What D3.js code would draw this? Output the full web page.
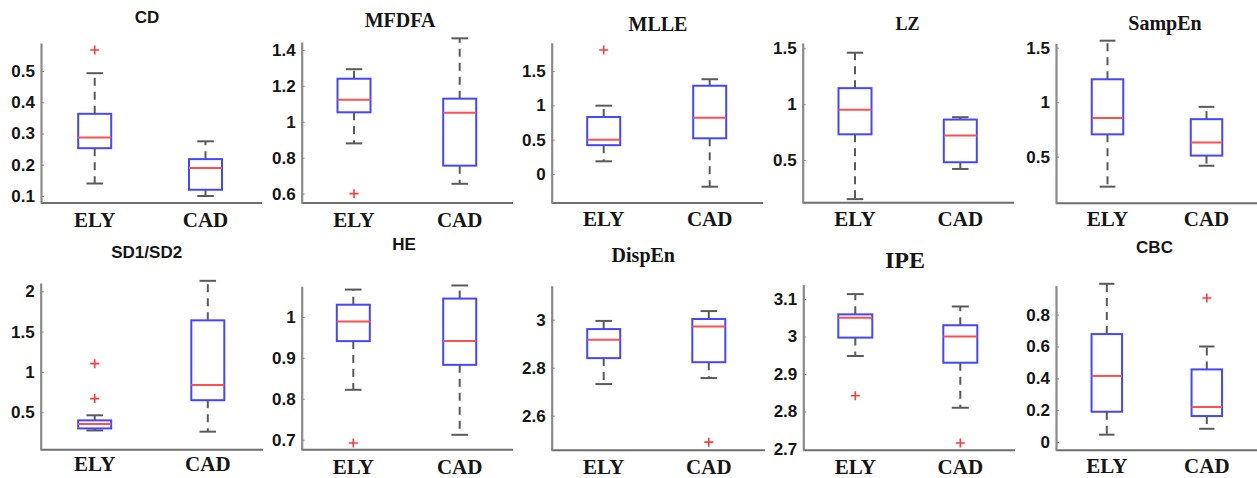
<!DOCTYPE html>
<html>
<head>
<meta charset="utf-8">
<script src="https://cdn.jsdelivr.net/npm/d3@7"></script>
<style>
  html, body { margin: 0; padding: 0; background: #fff; }
  svg { display: block; }
</style>
</head>
<body>
<svg id="chart" width="1257" height="478"></svg>
<script>
// Groups compared in every panel
const groups = ["ELY", "CAD"];

// Five-number summaries per group: [lower whisker, Q1, median, Q3, upper whisker]
const cdBox     = [[0.14, 0.253, 0.287, 0.363, 0.493], [0.10, 0.12, 0.19, 0.218, 0.275]];
const cdOut     = [[0.567], []];
const mfdfaBox  = [[0.88, 1.053, 1.123, 1.24, 1.293], [0.655, 0.756, 1.05, 1.129, 1.465]];
const mfdfaOut  = [[0.60], []];
const mlleBox   = [[0.185, 0.42, 0.50, 0.83, 0.995], [-0.185, 0.52, 0.82, 1.285, 1.38]];
const mlleOut   = [[1.806], []];
const lzBox     = [[0.15, 0.73, 0.95, 1.143, 1.46], [0.42, 0.48, 0.72, 0.862, 0.883]];
const lzOut     = [[], []];
const sampenBox = [[0.225, 0.705, 0.855, 1.21, 1.564], [0.417, 0.51, 0.63, 0.844, 0.957]];
const sampenOut = [[], []];
const sdBox     = [[0.275, 0.30, 0.355, 0.40, 0.463], [0.26, 0.65, 0.84, 1.64, 2.13]];
const sdOut     = [[1.103, 0.67], []];
const heBox     = [[0.822, 0.941, 0.989, 1.03, 1.067], [0.712, 0.883, 0.941, 1.045, 1.077]];
const heOut     = [[0.692], []];
const dispenBox = [[2.732, 2.84, 2.917, 2.961, 2.995], [2.757, 2.823, 2.972, 3.003, 3.036]];
const dispenOut = [[], [2.49]];
const ipeBox    = [[2.948, 2.997, 3.05, 3.059, 3.113], [2.81, 2.93, 3.0, 3.03, 3.08]];
const ipeOut    = [[2.842], [2.716]];
const cbcBox    = [[0.046, 0.19, 0.415, 0.678, 0.994], [0.083, 0.163, 0.22, 0.456, 0.6]];
const cbcOut    = [[], [0.905]];

// Tick labels of each y axis
const cdTicks     = [0.1, 0.2, 0.3, 0.4, 0.5];
const mfdfaTicks  = [0.6, 0.8, 1, 1.2, 1.4];
const mlleTicks   = [0, 0.5, 1, 1.5];
const lzTicks     = [0.5, 1, 1.5];
const sampenTicks = [0.5, 1, 1.5];
const sdTicks     = [0.5, 1, 1.5, 2];
const heTicks     = [0.7, 0.8, 0.9, 1];
const dispenTicks = [2.6, 2.8, 3];
const ipeTicks    = [2.7, 2.8, 2.9, 3, 3.1];
const cbcTicks    = [0, 0.2, 0.4, 0.6, 0.8];

// Panel titles
const titles = ["CD", "MFDFA", "MLLE", "LZ", "SampEn", "SD1/SD2", "HE", "DispEn", "IPE", "CBC"];

// Panel geometry: y-axis x, plot top/bottom, x-axis end, y domain, group centres, box width,
// title centre/baseline and font, label baseline, tick font size
const layout = [
  { ax: 41,    top: 43,    bot: 203,   right: 262,  dom: [0.0776, 0.5896], cx: [94.7, 205.5],  bw: 33, tx: 147,   ty: 22.5, tf: "sans", ts: 17, ly: 227, fs: 17 },
  { ax: 301.7, top: 42,    bot: 203,   right: 513,  dom: [0.548, 1.4445],  cx: [354, 459.7],   bw: 33, tx: 400,   ty: 27,  tf: "serif", ts: 20, ly: 227, fs: 17 },
  { ax: 551.7, top: 42.7,  bot: 203,   right: 763,  dom: [-0.422, 1.912],  cx: [603.7, 709.7], bw: 33, tx: 658,   ty: 31,  tf: "serif", ts: 20, ly: 225.5, fs: 17 },
  { ax: 802.7, top: 43,    bot: 202.7, right: 1014, dom: [0.118, 1.547],   cx: [855, 960.3],   bw: 33, tx: 907.5, ty: 29.5, tf: "serif", ts: 18, ly: 226, fs: 17 },
  { ax: 1056,  top: 43.3,  bot: 203.3, right: 1257, dom: [0.0725, 1.540],  cx: [1107.5, 1206.5], bw: 31.5, tx: 1165, ty: 30, tf: "serif", ts: 20, ly: 226, fs: 17 },
  { ax: 40.7,  top: 283,   bot: 449.7, right: 263,  dom: [0.0364, 2.103],  cx: [94.7, 207.8],  bw: 33, tx: 146.7, ty: 258, tf: "sans", ts: 17, ly: 471, fs: 17 },
  { ax: 301.7, top: 286.3, bot: 449.7, right: 513,  dom: [0.6756, 1.075],  cx: [353.3, 459.7], bw: 33, tx: 404,   ty: 249.5, tf: "sans", ts: 17, ly: 474, fs: 17 },
  { ax: 551.7, top: 285.7, bot: 450.3, right: 765,  dom: [2.456, 3.1417],  cx: [603.7, 708.8], bw: 33, tx: 643.3, ty: 261.5, tf: "serif", ts: 20, ly: 474, fs: 17 },
  { ax: 803.3, top: 284.7, bot: 450.3, right: 1015, dom: [2.6965, 3.1381], cx: [855.3, 960.3], bw: 34, tx: 905,   ty: 268, tf: "serif", ts: 24, ly: 473.5, fs: 17 },
  { ax: 1056,  top: 285.7, bot: 450.3, right: 1257, dom: [-0.0522, 0.982], cx: [1106.8, 1206.8], bw: 30.5, tx: 1154.5, ty: 253, tf: "sans", ts: 17, ly: 473, fs: 17 }
];

const boxes    = [cdBox, mfdfaBox, mlleBox, lzBox, sampenBox, sdBox, heBox, dispenBox, ipeBox, cbcBox];
const outliers = [cdOut, mfdfaOut, mlleOut, lzOut, sampenOut, sdOut, heOut, dispenOut, ipeOut, cbcOut];
const ticks    = [cdTicks, mfdfaTicks, mlleTicks, lzTicks, sampenTicks, sdTicks, heTicks, dispenTicks, ipeTicks, cbcTicks];

const SANS = "'Liberation Sans', Arial, sans-serif";
const SERIF = "'Liberation Serif', 'Times New Roman', serif";

const svg = d3.select("#chart");

layout.forEach((L, i) => {
  const g = svg.append("g");
  const y = d3.scaleLinear().domain(L.dom).range([L.bot, L.top]);
  const x = d3.scalePoint().domain(groups).range(L.cx);

  // x axis baseline
  g.append("line")
    .attr("x1", L.ax).attr("x2", L.right)
    .attr("y1", L.bot).attr("y2", L.bot)
    .attr("stroke", "#6e6e6e").attr("stroke-width", 2);

  // y axis with inward ticks
  const yAxis = g.append("g")
    .attr("transform", `translate(${L.ax},0)`)
    .call(d3.axisLeft(y).tickValues(ticks[i]).tickSize(-3).tickSizeOuter(0).tickPadding(6)
      .tickFormat(d => String(d)));
  yAxis.select(".domain").attr("stroke", "#8a8a8a").attr("stroke-width", 2.2);
  yAxis.selectAll(".tick line").attr("stroke", "#8a8a8a").attr("stroke-width", 1);
  yAxis.selectAll(".tick text")
    .attr("fill", "#151515")
    .style("font-family", SANS).style("font-weight", "bold").style("font-size", L.fs + "px");

  // title
  g.append("text")
    .attr("x", L.tx).attr("y", L.ty)
    .attr("text-anchor", "middle")
    .attr("fill", "#151515")
    .style("font-family", L.tf === "sans" ? SANS : SERIF)
    .style("font-weight", "bold").style("font-size", L.ts + "px")
    .text(titles[i]);

  // group labels
  g.selectAll("text.grp").data(groups).enter().append("text")
    .attr("class", "grp")
    .attr("x", d => x(d)).attr("y", L.ly)
    .attr("text-anchor", "middle")
    .attr("fill", "#151515")
    .style("font-family", SERIF).style("font-weight", "bold").style("font-size", "21px")
    .text(d => d);

  // box plots
  groups.forEach((grp, k) => {
    const [lo, q1, med, q3, hi] = boxes[i][k];
    const cx = x(grp);
    const hw = L.bw / 2;
    const cw = L.bw / 4;

    // dashed whiskers
    g.append("line").attr("x1", cx).attr("x2", cx).attr("y1", y(q3)).attr("y2", y(hi))
      .attr("stroke", "#5a5a5a").attr("stroke-width", 2).attr("stroke-dasharray", "8,6");
    g.append("line").attr("x1", cx).attr("x2", cx).attr("y1", y(q1)).attr("y2", y(lo))
      .attr("stroke", "#5a5a5a").attr("stroke-width", 2).attr("stroke-dasharray", "8,6");
    // whisker caps
    [lo, hi].forEach(v => {
      g.append("line").attr("x1", cx - cw).attr("x2", cx + cw).attr("y1", y(v)).attr("y2", y(v))
        .attr("stroke", "#5a5a5a").attr("stroke-width", 2);
    });
    // box
    g.append("rect")
      .attr("x", cx - hw).attr("width", L.bw)
      .attr("y", y(q3)).attr("height", y(q1) - y(q3))
      .attr("fill", "none").attr("stroke", "#4646ff").attr("stroke-width", 2);
    // median
    g.append("line").attr("x1", cx - hw).attr("x2", cx + hw).attr("y1", y(med)).attr("y2", y(med))
      .attr("stroke", "#ff5050").attr("stroke-width", 2);
    // outliers
    outliers[i][k].forEach(v => {
      g.append("path")
        .attr("d", `M${cx - 4.5},${y(v)}h9M${cx},${y(v) - 4.5}v9`)
        .attr("stroke", "#ff3a3a").attr("stroke-width", 1.6).attr("fill", "none");
    });
  });
});
</script>
</body>
</html>
